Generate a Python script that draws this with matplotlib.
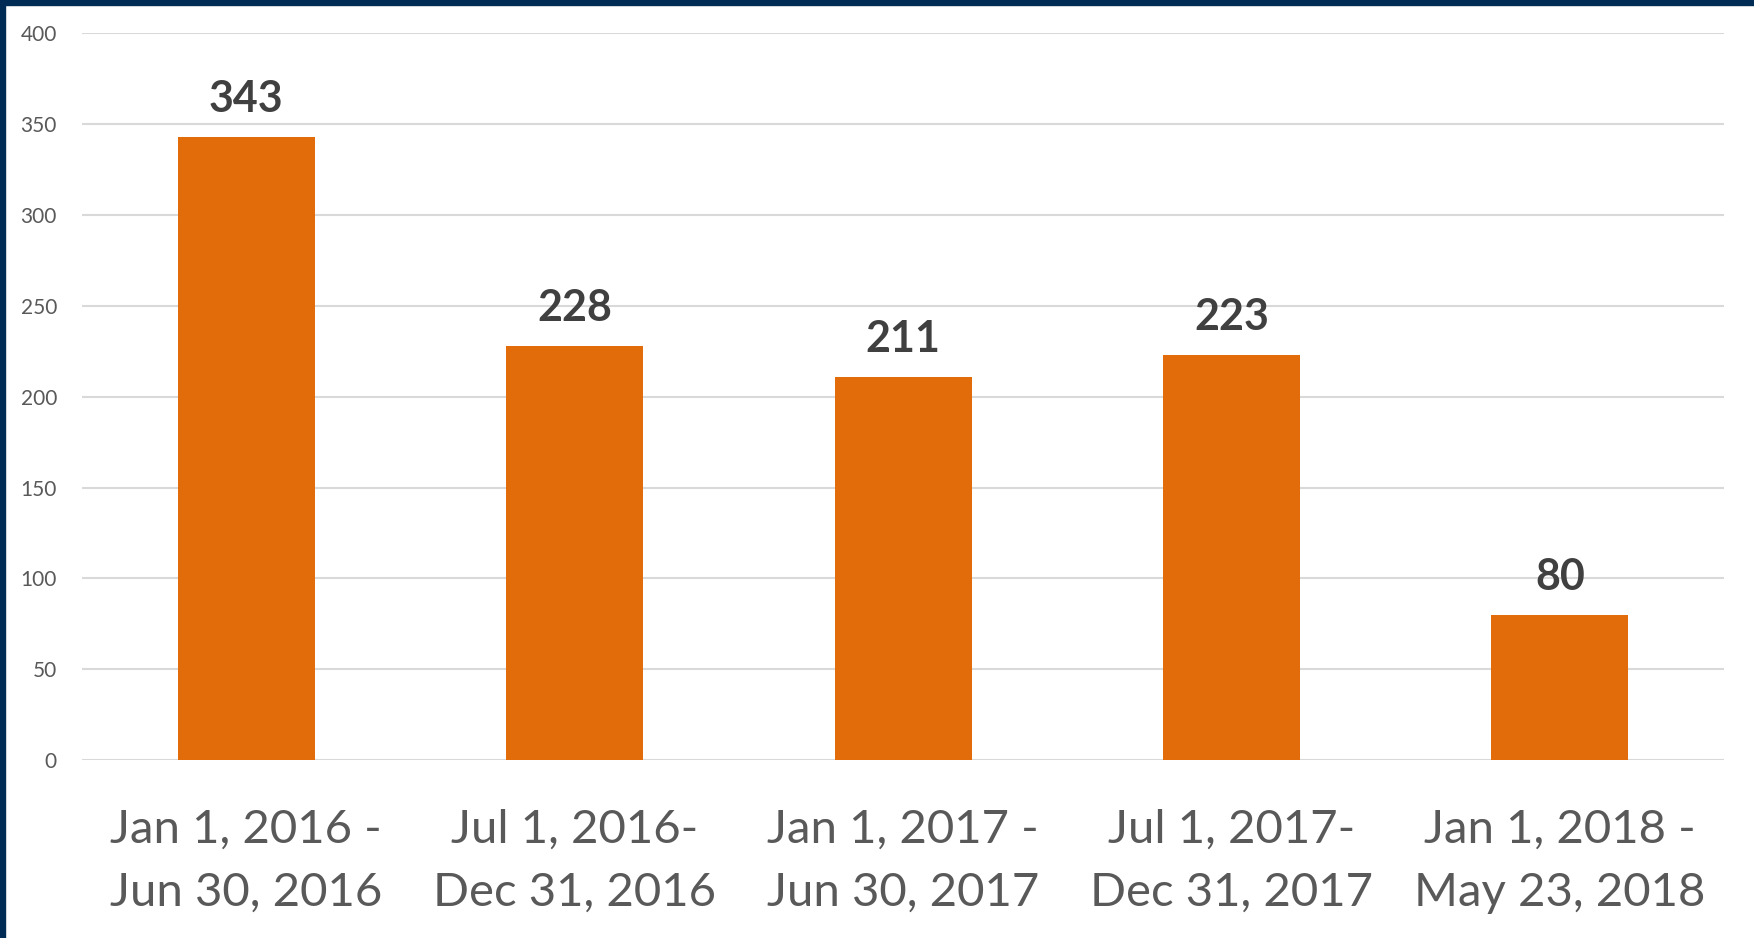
import matplotlib
matplotlib.use('Agg')
import matplotlib.pyplot as plt
from matplotlib.patches import Rectangle

# data
periods = ['Jan 1, 2016 -\nJun 30, 2016', 'Jul 1, 2016-\nDec 31, 2016',
           'Jan 1, 2017 -\nJun 30, 2017', 'Jul 1, 2017-\nDec 31, 2017',
           'Jan 1, 2018 -\nMay 23, 2018']
counts = [343, 228, 211, 223, 80]
yticks = [0, 50, 100, 150, 200, 250, 300, 350, 400]

plt.rcParams['font.family'] = ['Lato', 'DejaVu Sans']

fig = plt.figure(figsize=(17.54, 9.38), dpi=100)
ax = fig.add_axes([0.0467, 0.1898, 0.9363, 0.7745])

x = range(len(counts))
bars = ax.bar(x, counts, width=0.417, color='#E36C0A', zorder=3)
for xi, v in zip(x, counts):
    ax.annotate(str(v), (xi, v), xytext=(0, 13), textcoords='offset points',
                ha='center', va='bottom', fontsize=31, fontweight='bold',
                color='#404040')

ax.set_xlim(-0.5, 4.5)
ax.set_ylim(0, 400)
ax.set_yticks(yticks)
ax.set_xticks(list(x))
ax.set_xticklabels(periods, fontsize=34, color='#595959', linespacing=1.62)
ax.tick_params(axis='y', labelsize=15, colors='#595959', length=0, pad=18)
ax.tick_params(axis='x', length=0, pad=35)
ax.grid(axis='y', color='#D9D9D9', linewidth=1.5, zorder=0)
for s in ax.spines.values():
    s.set_visible(False)

# dark frame on top and left
fig.patches.append(Rectangle((0, 1 - 5/938), 1, 5/938, transform=fig.transFigure,
                             color='#002B55', zorder=10))
fig.patches.append(Rectangle((0, 0), 5/1754, 1, transform=fig.transFigure,
                             color='#002B55', zorder=10))

fig.savefig('out.png', dpi=100)
